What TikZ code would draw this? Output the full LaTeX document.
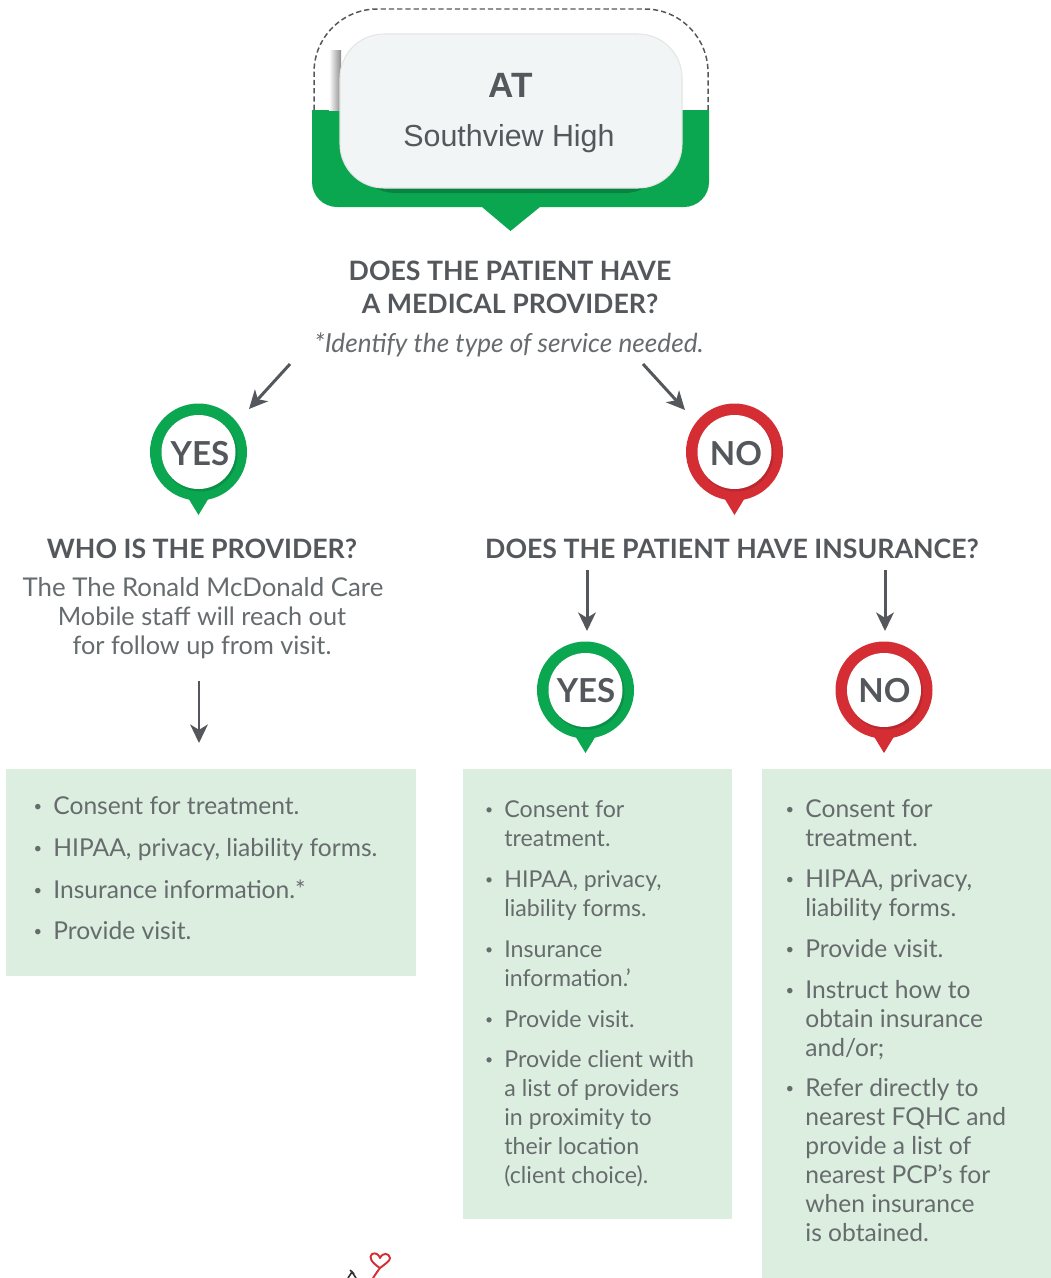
\documentclass[tikz,border=0pt]{standalone}
\usepackage{fontspec}
\setmainfont{Lato}
\newfontfamily\cardfont{Liberation Sans}
\usepackage{tikz}
\usetikzlibrary{arrows.meta,backgrounds,calc,positioning}
\definecolor{okgreen}{HTML}{0BA650}
\definecolor{nored}{HTML}{D42E34}
\definecolor{inkgrey}{HTML}{54575B}
\definecolor{listgrey}{HTML}{666B6D}
\definecolor{panelgreen}{HTML}{DCEEDF}
\definecolor{cardwhite}{HTML}{F2F5F6}
\newcommand{\dotitem}{\llap{\raisebox{1.6pt}{\scalebox{.6}{\textbullet}}\hspace{6.3pt}}}
\tikzset{
  flowarrow/.style={draw=inkgrey,line width=1.7pt,-{Stealth[length=10.5pt,width=10pt,inset=3pt]}},
  panel/.style={fill=panelgreen,draw=none},
  heading/.style={inkgrey,inner sep=0pt,anchor=base,font=\fontsize{15.2pt}{19pt}\selectfont\bfseries},
  bodytext/.style={listgrey,inner sep=0pt,anchor=base,align=center,font=\fontsize{14.4pt}{16.5pt}\selectfont},
  listitem/.style={listgrey,inner sep=0pt,anchor=base west,align=left,font=\fontsize{14pt}{16.5pt}\selectfont},
  narrowitem/.style={listitem,font=\fontsize{13.2pt}{16.5pt}\selectfont},
  pintext/.style={inkgrey,inner sep=0pt,font=\fontsize{18.8pt}{20pt}\selectfont\bfseries},
  pinmark/.pic={
    \fill[#1] (-14,40) -- (0,63) -- (14,40) -- cycle;
    \fill[#1] (0,0) circle (48.5);
    \fill[black,opacity=.12] (1.5,2) circle (37.5);
    \fill[white] (0,0) circle (37);
  }
}
\begin{document}
\begin{tikzpicture}[x=0.02cm,y=-0.02cm]
\useasboundingbox (0,0) rectangle (1051,1278);
% top card
\draw[inkgrey,line width=.85pt,dash pattern=on 3pt off 1.7pt,rounded corners=36] (314,110) -- (314,9) -- (708,9) -- (708,110);
\fill[okgreen] (312,110) -- (709,110) -- (709,182) arc[start angle=0,end angle=90,radius=25] -- (540,207) -- (510.5,231) -- (482,207) -- (337,207) arc[start angle=90,end angle=180,radius=25] -- cycle;
\shade[left color=white,right color=black!45] (329,50) rectangle (341,110);
\fill[black,opacity=.2,rounded corners=25] (352,60) rectangle (668,193);
\fill[cardwhite,rounded corners=25,draw=black!10,line width=.6pt] (340,34) rectangle (682,188);
\node[inkgrey,inner sep=0pt,anchor=base,font=\fontsize{20pt}{22pt}\selectfont\cardfont\bfseries] (titleAT) at (511,97) {AT};
\node[inkgrey,inner sep=0pt,anchor=base,font=\fontsize{17.3pt}{22pt}\selectfont\cardfont] (titleSchool) at (509,146) {Southview High};
% question
\node[heading] (askOne) at (510,280) {DOES THE PATIENT HAVE};
\node[heading] (askTwo) at (510,313) {A MEDICAL PROVIDER?};
\node[bodytext,font=\fontsize{14.9pt}{16.5pt}\selectfont\itshape] (askNote) at (509,352) {*Identify the type of service needed.};
% pins
\pic at (198.5,452) {pinmark=okgreen};
\node[pintext] (pinYes) at (200,454) {YES};
\pic at (734.5,452) {pinmark=nored};
\node[pintext] (pinNo) at (736,454) {NO};
\pic at (585.5,690) {pinmark=okgreen};
\node[pintext] (pinYesLow) at (586,691) {YES};
\pic at (884,690) {pinmark=nored};
\node[pintext] (pinNoLow) at (884.5,691) {NO};
% arrows
\coordinate (fromYes) at (290,364);
\coordinate (toYes) at (249,409);
\coordinate (fromNo) at (643,364);
\coordinate (toNo) at (685,410);
\coordinate (fromWho) at (199,681);
\coordinate (toWho) at (199,743);
\coordinate (fromIns) at (587,570);
\coordinate (toIns) at (587,631);
\coordinate (fromNoIns) at (885,570);
\coordinate (toNoIns) at (885,631);
\draw[flowarrow] (fromYes) -- (toYes);
\draw[flowarrow] (fromNo) -- (toNo);
\draw[flowarrow] (fromWho) -- (toWho);
\draw[flowarrow] (fromIns) -- (toIns);
\draw[flowarrow] (fromNoIns) -- (toNoIns);
% sub questions
\node[heading] (askWho) at (202,558) {WHO IS THE PROVIDER?};
\node[heading] (askIns) at (732,558) {DOES THE PATIENT HAVE INSURANCE?};
\node[bodytext,font=\fontsize{14.7pt}{16.5pt}\selectfont] (whoOne) at (203,596) {The The Ronald McDonald Care};
\node[bodytext] (whoTwo) at (202,625) {Mobile staff will reach out};
\node[bodytext] (whoThree) at (202,654) {for follow up from visit.};
% panels
\fill[panel] (6,769) rectangle (416,976);
\fill[panel] (463,769) rectangle (732,1219);
\fill[panel] (762,769) rectangle (1051,1278);
% left list
\node[listitem] (leftA) at (53,814) {\dotitem Consent for treatment.};
\node[listitem] (leftB) at (53,856) {\dotitem HIPAA, privacy, liability forms.};
\node[listitem] (leftC) at (53,898) {\dotitem Insurance information.*};
\node[listitem] (leftD) at (53,939) {\dotitem Provide visit.};
% middle list
\node[narrowitem] (midA) at (504,846) {\dotitem Consent for\\treatment.};
\node[narrowitem] (midB) at (504,916) {\dotitem HIPAA, privacy,\\liability forms.};
\node[narrowitem] (midC) at (504,986) {\dotitem Insurance\\information.'};
\node[narrowitem] (midD) at (504,1027) {\dotitem Provide visit.};
\node[narrowitem] (midE) at (504,1183) {\dotitem Provide client with\\a list of providers\\in proximity to\\their location\\(client choice).};
% right list
\node[listitem] (rightA) at (805,846) {\dotitem Consent for\\treatment.};
\node[listitem] (rightB) at (805,916) {\dotitem HIPAA, privacy,\\liability forms.};
\node[listitem] (rightC) at (805,957) {\dotitem Provide visit.};
\node[listitem] (rightD) at (805,1056) {\dotitem Instruct how to\\obtain insurance\\and/or;};
\node[listitem] (rightE) at (805,1241) {\dotitem Refer directly to\\nearest FQHC and\\provide a list of\\nearest PCP's for\\when insurance\\is obtained.};
% doodle at the foot
\draw[nored,line width=1.1pt,line join=round] (373,1278) .. controls (377,1272) .. (380,1268) .. controls (372,1263) and (368,1257) .. (372,1254) .. controls (376,1252) and (379,1255) .. (380,1258) .. controls (383,1252) and (389,1253) .. (390,1258) .. controls (390,1261) and (385,1264) .. (380,1268);
\draw[black!80,line width=.9pt] (348,1278) -- (352,1272) -- (356,1278);
\draw[black!80,line width=.9pt] (350,1270) -- (354,1274);
\end{tikzpicture}
\end{document}
